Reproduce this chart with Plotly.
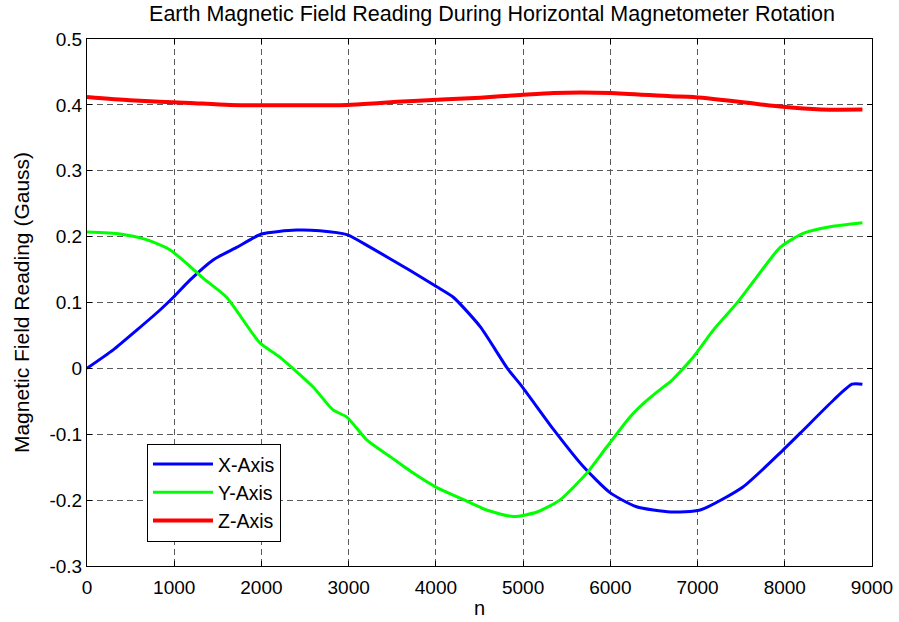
import plotly.graph_objects as go

title_text = "Earth Magnetic Field Reading During Horizontal Magnetometer Rotation"
x_title = "n"
y_title = "Magnetic Field Reading (Gauss)"

x_tick_vals = [0, 1000, 2000, 3000, 4000, 5000, 6000, 7000, 8000, 9000]
y_tick_vals = [-0.3, -0.2, -0.1, 0, 0.1, 0.2, 0.3, 0.4, 0.5]
y_tick_text = ["-0.3", "-0.2", "-0.1", "0", "0.1", "0.2", "0.3", "0.4", "0.5"]

x_axis_n = [0, 300, 570, 840, 990, 1180, 1450, 1720, 2000, 2400, 2670, 2980, 3245,
            3700, 4010, 4200, 4510, 4820, 4990, 5350, 5690, 6000, 6300, 6690, 7030,
            7520, 7980, 8180, 8560, 8770, 8890]
x_axis_val = [0.0, 0.028, 0.058, 0.089, 0.108, 0.134, 0.165, 0.184, 0.204, 0.210, 0.209,
              0.203, 0.184, 0.149, 0.124, 0.108, 0.063, 0.0, -0.028, -0.093, -0.149,
              -0.189, -0.210, -0.218, -0.215, -0.180, -0.124, -0.098, -0.048, -0.024, -0.024]

y_axis_n = [0, 380, 690, 950, 1180, 1330, 1600, 1980, 2210, 2590, 2820, 2980, 3210, 3475,
            3740, 4010, 4280, 4580, 4890, 5160, 5420, 5730, 5960, 6230, 6380, 6610, 6690,
            6950, 7180, 7450, 7680, 7950, 8210, 8520, 8890]
y_axis_val = [0.207, 0.204, 0.195, 0.180, 0.155, 0.137, 0.108, 0.039, 0.017, -0.028, -0.063,
              -0.074, -0.109, -0.134, -0.159, -0.181, -0.197, -0.215, -0.225, -0.218, -0.200,
              -0.159, -0.119, -0.073, -0.053, -0.028, -0.020, 0.017, 0.058, 0.099, 0.139,
              0.184, 0.205, 0.215, 0.221]

z_axis_n = [0, 490, 1180, 1640, 2980, 3360, 3740, 4510, 4970, 5350, 6000, 6690, 6950,
            7520, 7980, 8410, 8890]
z_axis_val = [0.412, 0.407, 0.403, 0.400, 0.400, 0.403, 0.406, 0.411, 0.415, 0.418, 0.418,
              0.413, 0.412, 0.404, 0.397, 0.393, 0.393]

series = [
    ("X-Axis", x_axis_n, x_axis_val, "#0000ff", 3),
    ("Y-Axis", y_axis_n, y_axis_val, "#00ff00", 3),
    ("Z-Axis", z_axis_n, z_axis_val, "#ff0000", 4),
]

fig = go.Figure()
for i, (name, xs, ys, color, w) in enumerate(series):
    fig.add_trace(go.Scatter(x=xs, y=ys, mode="lines", name=name, legendgroup=f"g{i}",
                             line=dict(color=color, width=w, shape="spline", smoothing=0.6)))

font_family = "Liberation Sans, Arial, sans-serif"

axis_common = dict(
    showline=True, linecolor="black", linewidth=1, mirror="ticks",
    ticks="inside", ticklen=5, tickcolor="black",
    showgrid=True, gridcolor="#5a5a5a", gridwidth=1, griddash="6px,4px",
    zeroline=False, automargin=False,
    tickfont=dict(family=font_family, size=19, color="black"),
)

fig.update_xaxes(range=[0, 9000], tickvals=x_tick_vals, ticklabelstandoff=4, **axis_common,
                 title=dict(text=x_title, font=dict(family=font_family, size=20, color="black"),
                            standoff=4))
fig.update_yaxes(range=[-0.3, 0.5], tickvals=y_tick_vals, ticktext=y_tick_text, **axis_common,
                 title=dict(text=y_title, font=dict(family=font_family, size=21, color="black"),
                            standoff=14))

fig.update_layout(
    width=899, height=622,
    margin=dict(l=87, r=27, t=39, b=56),
    paper_bgcolor="white", plot_bgcolor="white",
    title=dict(text=title_text, xref="paper", x=0.516, xanchor="center",
               y=0.979, yanchor="middle",
               font=dict(family=font_family, size=21.5, color="black")),
    font=dict(family=font_family, color="black"),
    legend=dict(x=0.0764, y=0.232, xanchor="left", yanchor="top",
                bgcolor="white", bordercolor="black", borderwidth=1,
                font=dict(family=font_family, size=19.5, color="black"),
                traceorder="grouped", tracegroupgap=0, itemwidth=60),
    showlegend=True,
)

fig.write_html("out.html")
